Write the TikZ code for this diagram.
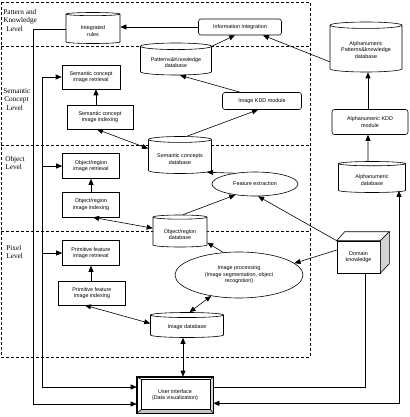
\documentclass[tikz,border=0pt]{standalone}
\usepackage{fontspec}
\setmainfont{Liberation Serif}
\setsansfont{Liberation Sans}
\usepackage{tikz}
\usetikzlibrary{arrows.meta, positioning, calc, shapes.geometric}

\begin{document}
\begin{tikzpicture}[x=1pt, y=-1pt, line width=0.6pt,
      box/.style={rectangle, draw, fill=white, inner sep=0pt, font=\sffamily\fontsize{5.4}{6.6}\selectfont, align=center},
      rbox/.style={box, rounded corners=2.5pt},
      db/.style={cylinder, shape border rotate=90, aspect=0.13, draw, fill=white, inner sep=0pt, anchor=shape center, font=\sffamily\fontsize{5.4}{6.6}\selectfont, align=center},
      dbt/.style={inner sep=0pt, font=\sffamily\fontsize{5.4}{6.6}\selectfont, align=center},
      oval/.style={ellipse, draw, fill=white, inner sep=0pt, font=\sffamily\fontsize{5.4}{6.6}\selectfont, align=center},
      lvl/.style={anchor=north west, inner sep=0pt, font=\rmfamily\fontsize{7.3}{8.5}\selectfont, align=left},
      zone/.style={line width=0.5pt, dash pattern=on 3pt off 2pt},
      arr/.style={-{Triangle[length=6pt, width=5pt]}},
      darr/.style={{Triangle[length=6pt, width=5pt]}-{Triangle[length=6pt, width=5pt]}}]
    \useasboundingbox (0,0) rectangle (409,417);

    % levels
    \draw[zone] (1,2) rectangle (310,357);
    \draw[zone] (1,46) -- (310,46);
    \draw[zone] (1,145) -- (310,145);
    \draw[zone] (1,231) -- (310,231);
    \node[lvl] (lpat) at (3,9) {Pattern and\\Knowledge\\\hspace{3pt}Level};
    \node[lvl] (lsem) at (3,88) {Semantic\\\hspace{1pt}Concept\\\hspace{3pt}Level};
    \node[lvl] (lobj) at (5,156) {Object\\Level};
    \node[lvl] (lpix) at (6,245) {Pixel\\Level};

    % image side (cylinder outline first, its text on top)
    \node[db, minimum width=54pt, minimum height=31pt] (intrules) at (93,28) {\phantom{Integrated}\\\phantom{rules}};
    \node[dbt] (intrules-t) at ($(intrules.shape center)+(0,3)$) {Integrated\\rules};
    \node[rbox, minimum width=83pt, minimum height=16pt] (infoint) at (240,27) {Information integration};
    \node[db, minimum width=71pt, minimum height=32pt] (pkdb) at (176,59) {\phantom{Patterns\&Knowledge}\\\phantom{database}};
    \node[dbt] (pkdb-t) at ($(pkdb.shape center)+(0,3.5)$) {Patterns\&Knowledge\\database};
    \node[rbox, minimum width=79pt, minimum height=17pt] (ikdd) at (262,101) {Image KDD module};
    \node[db, minimum width=63pt, minimum height=37pt] (scdb) at (180,155) {\phantom{Semantic concepts}\\\phantom{database}};
    \node[dbt] (scdb-t) at ($(scdb.shape center)+(0,4)$) {Semantic concepts\\database};
    \node[box, minimum width=58pt, minimum height=24pt] (semret) at (91,77) {Semantic concept\\image retrieval};
    \node[box, minimum width=66pt, minimum height=24pt] (semidx) at (100,117) {Semantic concept\\image indexing};
    \node[box, minimum width=57pt, minimum height=25pt] (objret) at (91,166) {Object/region\\image retrieval};
    \node[box, minimum width=57pt, minimum height=25pt, below=13pt of objret] (objidx) {Object/region\\image indexing};
    \node[db, minimum width=54pt, minimum height=32pt] (objdb) at (180,231) {\phantom{Object/region}\\\phantom{database}};
    \node[dbt] (objdb-t) at ($(objdb.shape center)+(0,3.5)$) {Object/region\\database};
    \node[oval, minimum width=86pt, minimum height=24pt] (fe) at (255,184) {Feature extraction};
    \node[oval, minimum width=128pt, minimum height=46pt] (improc) at (239,275) {Image processing\\(Image segmentation, object\\recognition)};
    \node[box, minimum width=57pt, minimum height=25pt] (primret) at (91,253) {Primitive feature\\image retrieval};
    \node[box, minimum width=67pt, minimum height=24pt] (primidx) at (92,293) {Primitive feature\\image indexing};
    \node[db, minimum width=73pt, minimum height=25pt] (imgdb) at (187,325) {\phantom{Image database}};
    \node[dbt] (imgdb-t) at ($(imgdb.shape center)+(0,2.5)$) {Image database};

    % user interface, bevelled
    \node[box, minimum width=76pt, minimum height=36pt] (ui) at (175,395) {User interface\\(Data visualization)};
    \fill[gray!45] (ui.south west) -- (ui.south east) -- ($(ui.south east)+(-3,-4)$) -- ($(ui.south west)+(5,-4)$) -- cycle;
    \fill[gray!30] (ui.north east) -- (ui.south east) -- ($(ui.south east)+(-3,-4)$) -- ($(ui.north east)+(-3,3)$) -- cycle;
    \draw (ui.north west) rectangle (ui.south east);
    \draw ($(ui.north west)+(5,3)$) rectangle ($(ui.south east)+(-3,-4)$);
    \draw (ui.north west) -- ++(5,3) (ui.south west) -- ++(5,-4);
    \draw (ui.north east) -- ++(-3,3) (ui.south east) -- ++(-3,-4);

    % alphanumeric side
    \node[db, minimum width=72pt, minimum height=50pt] (alpk) at (366,47) {\phantom{Alphanumeric}\\\phantom{Patterns\&knowledge}\\\phantom{database}};
    \node[dbt] (alpk-t) at ($(alpk.shape center)+(0,3)$) {Alphanumeric\\Patterns\&knowledge\\database};
    \node[rbox, minimum width=76pt, minimum height=25pt] (alkdd) at (370,122) {Alphanumeric KDD\\module};
    \node[db, minimum width=67pt, minimum height=31pt] (aldb) at (372,177) {\phantom{Alphanumeric}\\\phantom{database}};
    \node[dbt] (aldb-t) at ($(aldb.shape center)+(0,3)$) {Alphanumeric\\database};

    % domain knowledge, a box
    \node[box, minimum width=43pt, minimum height=32pt] (dk) at (358.5,257) {Domain\\knowledge};
    \filldraw[fill=white] (dk.north west) -- ++(8,-9) -- ($(dk.north east)+(9,-9)$) -- (dk.north east) -- cycle;
    \filldraw[fill=gray!35] (dk.north east) -- ++(9,-9) -- ++(0,32) -- (dk.south east) -- cycle;

    \coordinate (busA) at (33,404);
    \coordinate (busB) at (42,387);

    \draw[arr] (infoint.west) -- (infoint.west -| intrules.east);
    \draw[arr] (pkdb.22) -- ($(infoint.south)+(-5,0)$);
    \draw[arr] ($(alpk.west)+(0,13)$) -- ($(infoint.south)+(23,0)$);
    \draw[arr] ($(ikdd.north)+(-22,0)$) -- ($(pkdb.south)+(4,0)$);
    \draw[arr] ($(scdb.north)+(7,0)$) -- ($(ikdd.south)+(-4,0)$);
    \draw[arr] ($(semidx.north)+(-4,0)$) -- ($(semret.south)+(5,0)$);
    \draw[darr] ($(semidx.south)+(-3,0)$) -- ($(scdb.west)+(0,-8)$);
    \draw[arr] (fe.152) -- (scdb.-30);
    \draw[arr] (objidx) -- (objret);
    \draw[darr] ($(objidx.south)+(2,0)$) -- ($(objdb.west)+(0,-4)$);
    \draw[arr] ($(objdb.north)+(3,0)$) -- (fe.209);
    \draw[arr] (dk.north west) -- (fe.-76);
    \draw[arr] ($(dk.west)+(0,-7)$) -- (improc.12);
    \draw[arr] (improc.125) -- (objdb.-21);
    \draw[arr] (primidx.north -| primret) -- (primret);
    \draw[darr] (improc.217) -- (imgdb.80);
    \draw[darr] ($(primidx.south)+(-7,0)$) -- ($(imgdb.west)+(0,-3)$);
    \draw[darr] ($(imgdb.south)+(-4,0)$) -- ($(ui.north)+(8,0)$);

    \draw[arr] ($(aldb.north)+(-4,0)$) -- ($(alkdd.south)+(-2,0)$);
    \draw[arr] ($(alkdd.north)+(-2,0)$) -- ($(alpk.south)+(2,0)$);
    \draw[darr] ($(ui.south east)+(0,-10)$) -| ($(aldb.south)+(27,-2)$);
    \draw ($(dk.south)+(6.5,0)$) |- ($(ui.east)+(0,-8)$);

    % buses on the left
    \draw[arr] (intrules.west) -| (busA) -- (busA -| ui.west);
    \draw[darr] (semret.west) -| (busB) -- (busB -| ui.west);
    \draw[arr] (objret.west -| busB) -- (objret.west);
    \draw[arr] (primret.west -| busB) -- (primret.west);
  \end{tikzpicture}
\end{document}
